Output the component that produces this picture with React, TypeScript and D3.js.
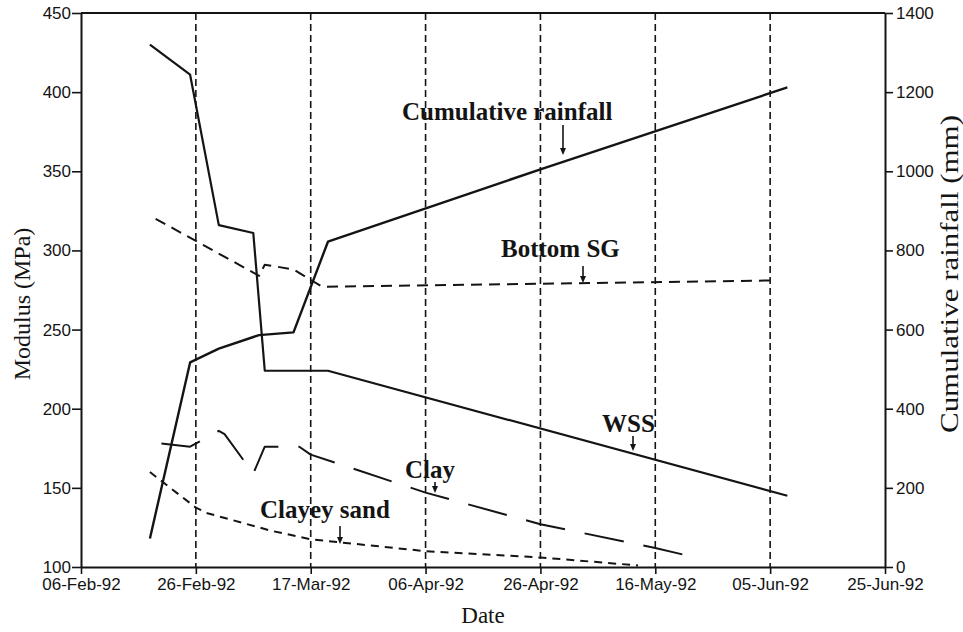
import { useEffect, useRef } from 'react';
import * as d3 from 'd3';

// values (left axis: MPa, right axis: mm)
const rainDates = ['1992-02-18', '1992-02-25', '1992-03-01', '1992-03-08', '1992-03-14', '1992-03-20', '1992-04-26', '1992-06-08'];
const rainValues = [72, 517, 552, 586, 593, 822, 1005, 1212];

const wssDates = ['1992-02-18', '1992-02-25', '1992-03-01', '1992-03-07', '1992-03-09', '1992-03-20', '1992-06-08'];
const wssValues = [430, 411, 316, 311, 224, 224, 145];

const sgDates = ['1992-02-19', '1992-03-08', '1992-03-09', '1992-03-14', '1992-03-19', '1992-06-05'];
const sgValues = [320, 284, 291, 288, 277, 281];

const clayDates = ['1992-02-20', '1992-02-25', '1992-03-01', '1992-03-02', '1992-03-07', '1992-03-09', '1992-03-15', '1992-03-17', '1992-04-06', '1992-04-26', '1992-05-16', '1992-05-23'];
const clayValues = [178, 176, 186, 184, 159, 176, 176, 171, 147, 127, 112, 106];

const sandDates = ['1992-02-18', '1992-02-26', '1992-02-28', '1992-03-10', '1992-03-17', '1992-04-06', '1992-04-26', '1992-05-13'];
const sandValues = [160, 137.5, 134, 123, 117.5, 110, 106, 101];

const xTicks = ['1992-02-06', '1992-02-26', '1992-03-17', '1992-04-06', '1992-04-26', '1992-05-16', '1992-06-05', '1992-06-25'];
const leftTicks = [100, 150, 200, 250, 300, 350, 400, 450];
const rightTicks = [0, 200, 400, 600, 800, 1000, 1200, 1400];

const parse = d3.utcParse('%Y-%m-%d');

export default function App() {
  const svgRef = useRef<SVGSVGElement>(null);

  useEffect(() => {
    if (!svgRef.current) return;
    const width = 963;
    const height = 632;
    const margin = { top: 13, right: 78, bottom: 65, left: 81 };
    const innerWidth = width - margin.left - margin.right;
    const innerHeight = height - margin.top - margin.bottom;

    const svg = d3.select(svgRef.current);
    svg.selectAll('*').remove();

    const g = svg.append('g').attr('transform', `translate(${margin.left},${margin.top})`);

    const x = d3.scaleUtc()
      .domain([parse(xTicks[0])!, parse(xTicks[xTicks.length - 1])!])
      .range([0, innerWidth]);
    const yL = d3.scaleLinear().domain([100, 450]).range([innerHeight, 0]);
    const yR = d3.scaleLinear().domain([0, 1400]).range([innerHeight, 0]);

    const ink = '#141414';
    const tickFont = '"Liberation Sans", Arial, sans-serif';
    const serif = '"Liberation Serif", "Times New Roman", serif';

    // dashed vertical grid lines at interior date ticks
    g.selectAll('.grid')
      .data(xTicks.slice(1, -1))
      .join('line')
      .attr('class', 'grid')
      .attr('x1', d => x(parse(d)!))
      .attr('x2', d => x(parse(d)!))
      .attr('y1', 0)
      .attr('y2', innerHeight)
      .attr('stroke', ink)
      .attr('stroke-width', 1.6)
      .attr('stroke-dasharray', '7,4');

    // frame top line
    g.append('line')
      .attr('x1', 0).attr('x2', innerWidth)
      .attr('y1', 0).attr('y2', 0)
      .attr('stroke', ink).attr('stroke-width', 2);

    const styleAxis = (sel: d3.Selection<SVGGElement, unknown, null, undefined>) => {
      sel.select('.domain').attr('stroke', ink).attr('stroke-width', 2);
      sel.selectAll('.tick line').attr('stroke', ink).attr('stroke-width', 1.6);
      sel.selectAll('.tick text')
        .attr('fill', ink)
        .style('font-family', tickFont)
        .style('font-size', '17px');
    };

    g.append('g')
      .attr('transform', `translate(0,${innerHeight})`)
      .call(d3.axisBottom(x)
        .tickValues(xTicks.map(d => parse(d)!))
        .tickFormat(d => d3.utcFormat('%d-%b-%y')(d as Date))
        .tickSize(7)
        .tickSizeOuter(0)
        .tickPadding(4))
      .call(styleAxis);

    g.append('g')
      .call(d3.axisLeft(yL).tickValues(leftTicks).tickSize(9).tickSizeOuter(0).tickPadding(1))
      .call(styleAxis);

    g.append('g')
      .attr('transform', `translate(${innerWidth},0)`)
      .call(d3.axisRight(yR).tickValues(rightTicks).tickFormat(d3.format('d')).tickSize(8).tickSizeOuter(0).tickPadding(3))
      .call(styleAxis);

    const lineL = d3.line<[string, number]>()
      .x(d => x(parse(d[0])!))
      .y(d => yL(d[1]));
    const lineR = d3.line<[string, number]>()
      .x(d => x(parse(d[0])!))
      .y(d => yR(d[1]));

    const series = [
      { pts: d3.zip(sandDates, sandValues) as [string, number][], gen: lineL, dash: '8,6', w: 2 },
      { pts: d3.zip(clayDates, clayValues) as [string, number][], gen: lineL, dash: '40,20', w: 2 },
      { pts: d3.zip(sgDates, sgValues) as [string, number][], gen: lineL, dash: '11,7', w: 2 },
      { pts: d3.zip(wssDates, wssValues) as [string, number][], gen: lineL, dash: null, w: 2.2 },
      { pts: d3.zip(rainDates, rainValues) as [string, number][], gen: lineR, dash: null, w: 2.4 },
    ];

    series.forEach(s => {
      g.append('path')
        .attr('d', s.gen(s.pts))
        .attr('fill', 'none')
        .attr('stroke', ink)
        .attr('stroke-width', s.w)
        .attr('stroke-linejoin', 'round')
        .attr('stroke-dasharray', s.dash);
    });

    // labels with arrows
    const labels = [
      { text: 'Cumulative rainfall', tx: 402, ty: 120, ax: 563, ay1: 125, ay2: 155 },
      { text: 'Bottom SG', tx: 501, ty: 257, ax: 583, ay1: 266, ay2: 283 },
      { text: 'WSS', tx: 602, ty: 432, ax: 633, ay1: 436, ay2: 451 },
      { text: 'Clay', tx: 405, ty: 478, ax: 435, ay1: 482, ay2: 493 },
      { text: 'Clayey sand', tx: 260, ty: 518, ax: 340, ay1: 526, ay2: 544 },
    ];

    labels.forEach(l => {
      svg.append('text')
        .attr('x', l.tx)
        .attr('y', l.ty)
        .attr('fill', ink)
        .style('font-family', serif)
        .style('font-weight', 'bold')
        .style('font-size', '25px')
        .text(l.text);
      svg.append('line')
        .attr('x1', l.ax).attr('x2', l.ax)
        .attr('y1', l.ay1).attr('y2', l.ay2 - 4)
        .attr('stroke', ink).attr('stroke-width', 1.6);
      svg.append('path')
        .attr('d', `M${l.ax - 3},${l.ay2 - 7}L${l.ax + 3},${l.ay2 - 7}L${l.ax},${l.ay2}Z`)
        .attr('fill', ink);
    });

    // axis titles
    svg.append('text')
      .attr('transform', `translate(30,304) rotate(-90)`)
      .attr('text-anchor', 'middle')
      .attr('fill', ink)
      .style('font-family', serif)
      .style('font-size', '24px')
      .text('Modulus (MPa)');

    svg.append('text')
      .attr('transform', `translate(958,274) rotate(-90)`)
      .attr('text-anchor', 'middle')
      .attr('fill', ink)
      .attr('textLength', 318)
      .attr('lengthAdjust', 'spacingAndGlyphs')
      .style('font-family', serif)
      .style('font-size', '25px')
      .text('Cumulative rainfall (mm)');

    svg.append('text')
      .attr('x', 483)
      .attr('y', 623)
      .attr('text-anchor', 'middle')
      .attr('fill', ink)
      .style('font-family', serif)
      .style('font-size', '23px')
      .text('Date');
  }, []);

  return (
    <div style={{ position: 'absolute', left: 0, top: 0, width: 963, height: 632, background: '#fff' }}>
      <svg ref={svgRef} width={963} height={632}></svg>
    </div>
  );
}
